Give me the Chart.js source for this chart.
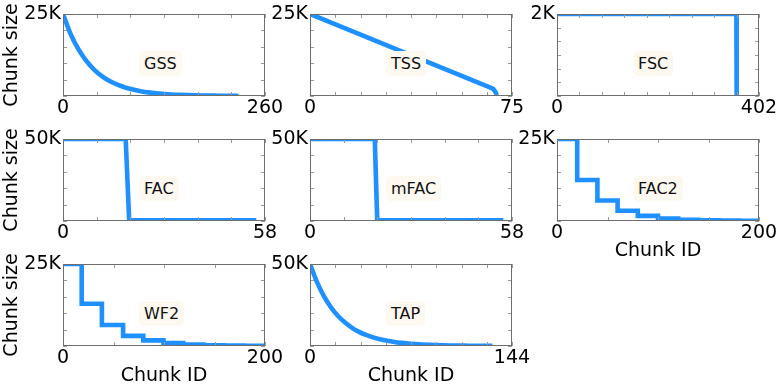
<!DOCTYPE html>
<html><head><meta charset="utf-8">
<script src="https://cdn.jsdelivr.net/npm/chart.js@4.4.1/dist/chart.umd.min.js"></script>
<style>
html,body{margin:0;padding:0;background:#fff;overflow:hidden;}
#wrap{position:relative;width:781px;height:391px;overflow:hidden;}
canvas{position:absolute;}
.tag{position:absolute;font-family:'DejaVu Sans';font-size:16px;line-height:19px;padding:3px 5px;background:rgb(253,248,240);border-radius:5px;color:#111;white-space:nowrap;}
</style></head><body><div id="wrap"></div>
<script>
// ---- data ----
const names = ['GSS','TSS','FSC','FAC','mFAC','FAC2','WF2','TAP'];
const xMax = [260, 75, 402, 58, 58, 200, 200, 144];
const yMax = [25000, 25000, 2000, 50000, 50000, 25000, 25000, 50000];
const xTickLabels = [['0','260'],['0','75'],['0','402'],['0','58'],['0','58'],['0','200'],['0','200'],['0','144']];
const yTickLabels = ['25K','25K','2K','50K','50K','25K','25K','50K'];
const xTickIntervals = [6, 8, 9, 6, 6, 4, 4, 8];
const yTickIntervals = [5, 5, 6, 5, 5, 5, 5, 5];

const gssX = [0,10,20,30,40,50,60,70,80,90,100,110,120,130,140,150,160,170,180,190,200,210,220,226];
const gssY = [25000,18800,14200,10700,8050,6060,4560,3440,2590,1950,1470,1100,830,630,470,355,270,200,150,115,90,60,40,20];
const tssX = [0,67,68,68.8,69.4];
const tssY = [25000,2550,2200,1300,250];
const fscX = [0,357,357.5];
const fscY = [2000,2000,0];
const facX = [0,18,19,55.5];
const facY = [50000,50000,400,400];
const mfacX = [0,18.6,19.3,55.5];
const mfacY = [50000,50000,400,400];
const fac2X = [0,20,40,60,80,100,120,140,160,180,200];
const fac2Y = [25000,12500,6250,3125,1560,780,390,195,100,50,50];
const wf2X = [0,18.5,38.5,59.5,79.5,99.5,119,139,159,179,200];
const wf2Y = [25000,12900,6400,3100,1700,900,480,240,120,60,60];
const tapX = [0,5,10,15,20,25,30,35,40,45,50,55,60,65,70,75,80,85,90,95,100,105,110,115,120,125,130];
const tapY = [50000,38900,30300,23500,18300,14300,11100,8640,6720,5230,4070,3170,2460,1920,1490,1160,900,700,550,430,330,260,200,160,120,90,70];

const seriesX = [gssX, tssX, fscX, facX, mfacX, fac2X, wf2X, tapX];
const seriesY = [gssY, tssY, fscY, facY, mfacY, fac2Y, wf2Y, tapY];
const smooth = [true,false,false,false,false,false,false,true];
const stepped = [false,false,false,false,false,'before','before',false];
const yTitleOn = [true,false,false,true,false,false,true,false];
const xTitleOn = [false,false,false,false,false,true,true,true];

// ---- layout ----
const colLeft = [63, 310, 557];
const rowTop = [14, 139, 264];
const PW = 202, PH = 82;
const YW = 63, XH = 45, PT = 14, PR = 25;
const FONT = 'DejaVu Sans';

const frameTicks = {
  id: 'frameTicks',
  afterDatasetsDraw(chart) {
    const {ctx, chartArea: a, scales: {x, y}} = chart;
    ctx.save();
    ctx.lineWidth = 1;
    ctx.strokeStyle = '#9a9a9a';
    ctx.beginPath();
    x.ticks.forEach(t => {
      const px = Math.round(x.getPixelForValue(t.value)) + 0.5;
      ctx.moveTo(px, a.bottom); ctx.lineTo(px, a.bottom - 4);
      ctx.moveTo(px, a.top); ctx.lineTo(px, a.top + 4);
    });
    y.ticks.forEach(t => {
      const py = Math.round(y.getPixelForValue(t.value)) + 0.5;
      ctx.moveTo(a.left, py); ctx.lineTo(a.left + 4, py);
      ctx.moveTo(a.right, py); ctx.lineTo(a.right - 4, py);
    });
    ctx.stroke();
    ctx.strokeStyle = '#6e6e6e';
    ctx.strokeRect(a.left + 0.5, a.top + 0.5, a.width - 1, a.height - 1);
    ctx.restore();
  }
};

const wrap = document.getElementById('wrap');
names.forEach((name, i) => {
  const col = i % 3, row = Math.floor(i / 3);
  const cv = document.createElement('canvas');
  const W = YW + PW + PR, H = PT + PH + XH;
  cv.width = W; cv.height = H;
  cv.style.width = W + 'px'; cv.style.height = H + 'px';
  cv.style.left = (colLeft[col] - YW) + 'px';
  cv.style.top = (rowTop[row] - PT) + 'px';
  wrap.appendChild(cv);

  const xs = seriesX[i], ys = seriesY[i];
  const pts = xs.map((v, k) => ({x: v, y: ys[k]}));
  const nx = xTickIntervals[i], ny = yTickIntervals[i];
  const xt = Array.from({length: nx + 1}, (_, k) => xMax[i] * k / nx);
  const yt = Array.from({length: ny + 1}, (_, k) => yMax[i] * k / ny);

  new Chart(cv, {
    type: 'line',
    data: {datasets: [{
      data: pts,
      borderColor: 'rgb(30,144,255)',
      borderWidth: 4.6,
      pointRadius: 0,
      fill: false,
      clip: 0,
      cubicInterpolationMode: smooth[i] ? 'monotone' : 'default',
      stepped: stepped[i],
      borderJoinStyle: 'miter'
    }]},
    options: {
      responsive: false, animation: false, devicePixelRatio: 1,
      layout: {padding: {top: PT, right: PR, left: 0, bottom: 0}},
      plugins: {legend: {display: false}, tooltip: {enabled: false}},
      scales: {
        x: {
          type: 'linear', min: 0, max: xMax[i],
          grid: {display: false, drawTicks: false}, border: {display: false},
          afterBuildTicks: s => { s.ticks = xt.map(v => ({value: v})); },
          afterFit: s => { s.height = XH; },
          ticks: {autoSkip: false, maxRotation: 0, padding: 1, color: '#000',
            font: {family: FONT, size: 19},
            callback: (v, idx, arr) => idx === 0 ? xTickLabels[i][0] : (idx === arr.length - 1 ? xTickLabels[i][1] : '')},
          title: {display: xTitleOn[i], text: 'Chunk ID', color: '#000', font: {family: FONT, size: 19}, padding: {top: 0, bottom: 4}}
        },
        y: {
          type: 'linear', min: 0, max: yMax[i],
          grid: {display: false, drawTicks: false}, border: {display: false},
          afterBuildTicks: s => { s.ticks = yt.map(v => ({value: v})); },
          afterFit: s => { s.width = YW; },
          ticks: {autoSkip: false, padding: 2, color: '#000',
            font: {family: FONT, size: 19},
            callback: (v, idx, arr) => idx === arr.length - 1 ? yTickLabels[i] : ''},
          title: {display: yTitleOn[i], text: 'Chunk size', color: '#000', font: {family: FONT, size: 19}, padding: {top: 1, bottom: 0}}
        }
      }
    },
    plugins: [frameTicks]
  });

  const tag = document.createElement('div');
  tag.className = 'tag';
  tag.textContent = name;
  tag.style.left = (colLeft[col] + 76) + 'px';
  tag.style.top = (rowTop[row] + 37) + 'px';
  wrap.appendChild(tag);
});
</script></body></html>
